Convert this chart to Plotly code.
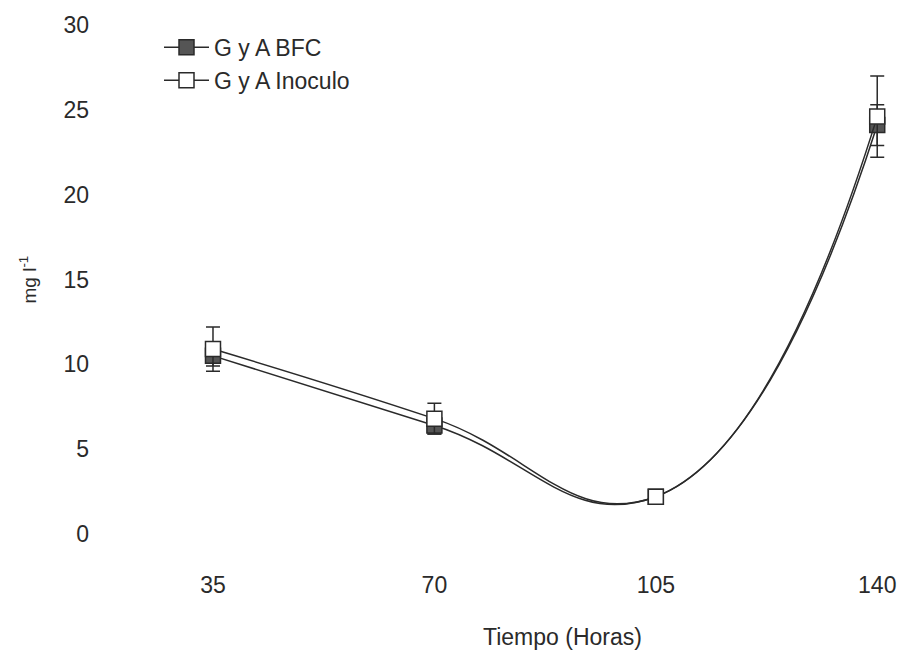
import plotly.graph_objects as go

horas = [35, 70, 105, 140]
bfc = [10.5, 6.4, 2.2, 24.1]
bfc_err = [0.6, 0.5, 0.2, 1.2]
inoculo = [10.9, 6.8, 2.2, 24.6]
inoculo_err = [1.3, 0.9, 0.2, 2.4]
x_ticks = [35, 70, 105, 140]
y_ticks = [0, 5, 10, 15, 20, 25, 30]

FONT = "Liberation Sans, Arial, sans-serif"
INK = "#2a2a2a"

fig = go.Figure()
fig.add_trace(go.Scatter(
    x=horas, y=bfc, name="G y A BFC", mode="lines+markers",
    line=dict(color=INK, width=1.5, shape="spline", smoothing=1.3),
    marker=dict(symbol="square", size=15, color="#555555", line=dict(color=INK, width=1.5)),
    error_y=dict(type="data", array=bfc_err, color=INK, thickness=1.5, width=7),
))
fig.add_trace(go.Scatter(
    x=horas, y=inoculo, name="G y A Inoculo", mode="lines+markers",
    line=dict(color=INK, width=1.5, shape="spline", smoothing=1.3),
    marker=dict(symbol="square", size=15, color="white", line=dict(color=INK, width=1.5)),
    error_y=dict(type="data", array=inoculo_err, color=INK, thickness=1.5, width=7),
))

fig.update_layout(
    width=900, height=656,
    margin=dict(l=120, r=0, t=8, b=105),
    paper_bgcolor="white", plot_bgcolor="white",
    font=dict(family=FONT, color=INK, size=22),
    showlegend=True,
    legend=dict(x=0.05, y=0.967, xanchor="left", yanchor="top",
                bgcolor="rgba(0,0,0,0)", font=dict(size=23, color=INK),
                itemwidth=45, tracegroupgap=0),
    xaxis=dict(range=[20.3, 143.6], tickvals=x_ticks, showgrid=False, zeroline=False,
               showline=False, ticks="", ticklabelstandoff=18,
               tickfont=dict(size=23)),
    yaxis=dict(range=[-1, 31], tickvals=y_ticks, showgrid=False, zeroline=False,
               showline=False, ticks="", ticklabelstandoff=30,
               tickfont=dict(size=23)),
    annotations=[
        dict(text="Tiempo (Horas)", xref="paper", yref="paper",
             x=0.567, y=-0.158, xanchor="center", yanchor="middle",
             showarrow=False, font=dict(size=23, color=INK)),
        dict(text="mg l<sup>-1</sup>", xref="paper", yref="paper",
             x=-0.118, y=0.5, xanchor="center", yanchor="middle", textangle=-90,
             showarrow=False, font=dict(size=19, color=INK)),
    ],
)

fig.write_html("out.html")
